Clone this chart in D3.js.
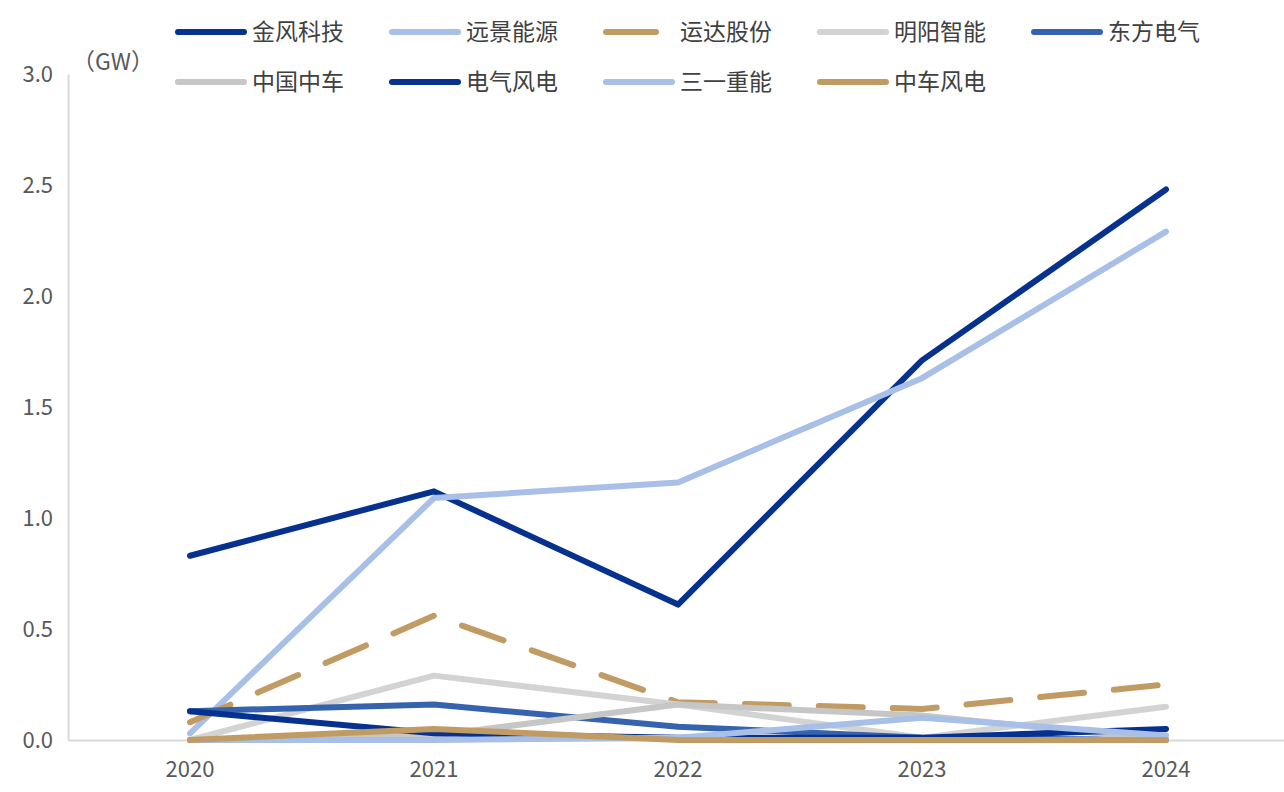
<!DOCTYPE html>
<html><head><meta charset="utf-8">
<script src="https://cdn.jsdelivr.net/npm/d3@7/dist/d3.min.js"></script>
<style>body{margin:0;background:#fff}svg{display:block;font-family:"Noto Sans CJK SC","Noto Sans",sans-serif}</style>
</head><body><svg id="c" width="1284" height="792"></svg>
<script>
const years = ["2020","2021","2022","2023","2024"];
const seriesNames = ["金风科技","远景能源","运达股份","明阳智能","东方电气","中国中车","电气风电","三一重能","中车风电"];
const goldwind   = [0.83, 1.12, 0.61, 1.71, 2.48];
const envision   = [0.03, 1.09, 1.16, 1.63, 2.29];
const windey     = [0.08, 0.56, 0.17, 0.14, 0.25];
const mingyang   = [0.00, 0.29, 0.16, 0.01, 0.15];
const dongfang   = [0.13, 0.16, 0.06, 0.01, 0.00];
const crrc       = [0.00, 0.02, 0.16, 0.11, 0.00];
const seWind     = [0.13, 0.03, 0.01, 0.01, 0.05];
const sany       = [0.00, 0.00, 0.01, 0.10, 0.02];
const crrcWind   = [0.00, 0.05, 0.00, 0.00, 0.00];
const yTicks = [0, 0.5, 1.0, 1.5, 2.0, 2.5, 3.0];
const unitLabel = "（GW）";

const seriesValues = [goldwind, envision, windey, mingyang, dongfang, crrc, seWind, sany, crrcWind];
const colors = ["#06318f","#a8bfe7","#c19b64","#d3d3d3","#3563ad","#c6c6c6","#06318f","#a8bfe7","#c19b64"];
const dashed = [false,false,true,false,false,false,false,false,false];

const svg = d3.select("#c");
const x = d3.scaleBand().domain(years).range([68, 1288]);
const y = d3.scaleLinear().domain([0, 3]).range([740, 74]);

// axes
const yAxis = svg.append("g").attr("transform","translate(68,0)")
  .call(d3.axisLeft(y).tickValues(yTicks).tickFormat(d3.format(".1f")).tickSize(0).tickPadding(15));
yAxis.select(".domain").attr("stroke","#d9d9d9").attr("stroke-width",2);
yAxis.selectAll("text").attr("font-size",22).attr("fill","#595959").attr("font-family","Noto Sans CJK SC");

const xAxis = svg.append("g").attr("transform","translate(0,740)")
  .call(d3.axisBottom(x).tickSize(0).tickPadding(21));
xAxis.select(".domain").attr("stroke","#d9d9d9").attr("stroke-width",2);
xAxis.selectAll("text").attr("font-size",22).attr("fill","#595959").attr("font-family","Noto Sans CJK SC");

svg.append("text").attr("x",72).attr("y",70).attr("font-size",23).attr("fill","#595959").text(unitLabel);

const line = d3.line().x((d,i)=>x(years[i]) + x.bandwidth()/2).y(d=>y(d));
seriesValues.forEach((vals,i)=>{
  svg.append("path").datum(vals).attr("d",line)
    .attr("fill","none").attr("stroke",colors[i]).attr("stroke-width",6)
    .attr("stroke-linecap","round").attr("stroke-linejoin","round")
    .attr("stroke-dasharray", dashed[i] ? "44,30" : null);
});

// legend
const legendPos = [[176,32],[390,32],[604,32],[818,32],[1032,32],[176,82],[390,82],[604,82],[818,82]];
seriesNames.forEach((name,i)=>{
  const [lx,ly] = legendPos[i];
  const g = svg.append("g");
  g.append("line").attr("x1",lx+2).attr("x2",lx + (dashed[i] ? 52 : 68)).attr("y1",ly).attr("y2",ly)
    .attr("stroke",colors[i]).attr("stroke-width",6).attr("stroke-linecap","round");
  g.append("text").attr("x",lx+76).attr("y",ly).attr("dy","0.36em")
    .attr("font-size",23).attr("fill","#404040").text(name);
});
</script></body></html>
